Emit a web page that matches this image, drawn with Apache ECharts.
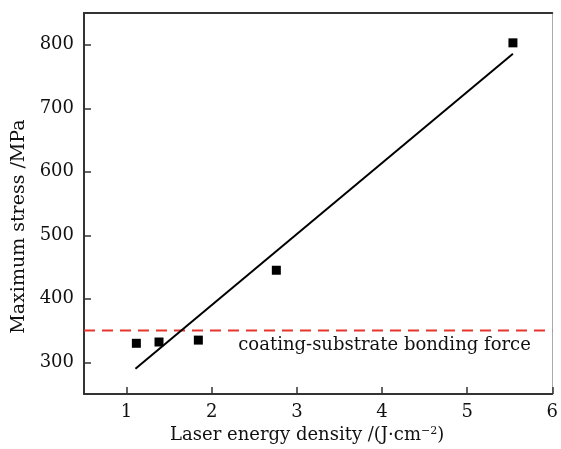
<!DOCTYPE html>
<html>
<head>
<meta charset="utf-8">
<script src="https://cdn.jsdelivr.net/npm/echarts@6/dist/echarts.min.js"></script>
<style>
  html, body { margin: 0; padding: 0; background: #fff; overflow: hidden; }
  #chart { position: absolute; left: 0; top: 0; width: 561px; height: 449px; }
</style>
</head>
<body>
<div id="chart"></div>
<script>
// Measured maximum stress against laser energy density
const energyDensity = [1.115, 1.381, 1.843, 2.759, 5.538];
const maxStress = [330, 332, 335, 445, 803];

// Linear fit through the measurements (end points)
const fitX = [1.104, 5.538];
const fitY = [290, 786];

// Coating-substrate bonding force threshold
const bondingForce = 350;
const bondingX = [0.5, 6];
const bondingLabel = 'coating-substrate bonding force';
const bondingLabelAt = [4.03, 327];

const xTicks = [1, 2, 3, 4, 5, 6];
const yTicks = [300, 400, 500, 600, 700, 800];

const FONT = 'DejaVu Serif';
const INK = '#111';

const chart = echarts.init(document.getElementById('chart'), null, { renderer: 'canvas', width: 561, height: 449 });

const axisLine = { show: true, lineStyle: { color: '#333', width: 2 } };

chart.setOption({
  animation: false,
  backgroundColor: '#fff',
  grid: { left: 84, right: 1, top: 13, bottom: 52, containLabel: false },
  xAxis: [{
    type: 'value', min: 0.5, max: 6, interval: 0.5,
    axisLine: axisLine,
    axisTick: { show: true, inside: true, length: 7, lineStyle: { color: '#333', width: 1.5 },
      customValues: xTicks },
    axisLabel: { color: INK, fontFamily: FONT, fontSize: 18, margin: 9, customValues: xTicks },
    splitLine: { show: false },
    name: 'Laser energy density /(J·cm{sup|−2})',
    nameLocation: 'middle', nameGap: 30,
    nameTextStyle: {
      color: INK, fontFamily: FONT, fontSize: 18, padding: [0, 22, 0, 0],
      rich: { sup: { fontFamily: FONT, fontSize: 11, color: INK, verticalAlign: 'top', padding: [0, 0, 6, 0] } }
    }
  }, {
    type: 'value', min: 0.5, max: 6, position: 'top',
    axisLine: axisLine, axisTick: { show: false }, axisLabel: { show: false }, splitLine: { show: false }
  }],
  yAxis: [{
    type: 'value', min: 250, max: 850, interval: 50,
    axisLine: axisLine,
    axisTick: { show: true, inside: true, length: 7, lineStyle: { color: '#333', width: 1.5 },
      customValues: yTicks },
    axisLabel: { color: INK, fontFamily: FONT, fontSize: 18, margin: 10, customValues: yTicks },
    splitLine: { show: false },
    name: 'Maximum stress /MPa',
    nameLocation: 'middle', nameGap: 36,
    nameTextStyle: { color: INK, fontFamily: FONT, fontSize: 19, padding: [0, 46, 0, 0] }
  }, {
    type: 'value', min: 250, max: 850, position: 'right',
    axisLine: { show: true, lineStyle: { color: '#aaa', width: 1 } },
    axisTick: { show: false }, axisLabel: { show: false }, splitLine: { show: false }
  }],
  series: [
    {
      name: 'bonding force', type: 'line',
      data: bondingX.map(x => [x, bondingForce]),
      symbol: 'none',
      lineStyle: { color: '#e8342f', width: 2, type: [11, 7] },
      z: 2
    },
    {
      name: 'fit', type: 'line',
      data: fitX.map((x, i) => [x, fitY[i]]),
      symbol: 'none',
      lineStyle: { color: '#000', width: 2 },
      z: 3
    },
    {
      name: 'measured', type: 'scatter',
      data: energyDensity.map((x, i) => [x, maxStress[i]]),
      symbol: 'rect', symbolSize: 9,
      itemStyle: { color: '#000', opacity: 1 },
      z: 4
    },
    {
      name: 'label', type: 'scatter',
      data: [bondingLabelAt],
      symbolSize: 0,
      itemStyle: { opacity: 1 },
      label: {
        show: true, position: 'inside', formatter: bondingLabel,
        color: INK, fontFamily: FONT, fontSize: 18
      },
      silent: true, z: 5
    }
  ]
});
</script>
</body>
</html>
